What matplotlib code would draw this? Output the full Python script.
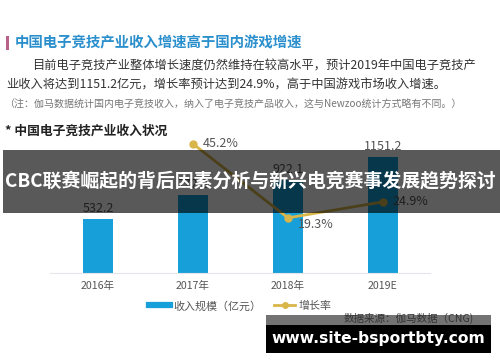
import matplotlib
matplotlib.use("Agg")
import matplotlib.pyplot as plt
from matplotlib.lines import Line2D
from matplotlib.patches import Rectangle

plt.rcParams['font.family'] = ['Noto Sans CJK SC', 'DejaVu Sans']

years = ['2016年', '2017年', '2018年', '2019E']
revenue = [532.2, 772.8, 922.1, 1151.2]
growth_years = [1, 2, 3]
growth = [45.2, 19.3, 24.9]

BLUE = '#169fd8'
GOLD = '#d8b64a'
W, H = 500, 362


def fx(px):
   return px / W


def fy(py):
   return 1 - py / H


fig = plt.figure(figsize=(5, 3.62), dpi=100)
fig.patch.set_facecolor('white')

# header block
fig.patches.append(Rectangle((fx(6), fy(50)), fx(3), 14 / H, transform=fig.transFigure,
                             color='#b8628a', lw=0))
fig.text(fx(15), fy(43), '中国电子竞技产业收入增速高于国内游戏增速', fontsize=10.4,
         fontweight='bold', color='#2a8fcc', va='center')
fig.text(fx(32), fy(66), '目前电子竞技产业整体增长速度仍然维持在较高水平，预计2019年中国电子竞技产',
         fontsize=8.8, color='#333333', va='center')
fig.text(fx(6), fy(85), '业收入将达到1151.2亿元，增长率预计达到24.9%，高于中国游戏市场收入增速。',
         fontsize=8.8, color='#333333', va='center')
fig.text(fx(4), fy(104), '（注：伽马数据统计国内电子竞技收入，纳入了电子竞技产品收入，这与Newzoo统计方式略有不同。）',
         fontsize=7.2, color='#777777', va='center')
fig.text(fx(5), fy(131), '* 中国电子竞技产业收入状况', fontsize=9.2, fontweight='bold',
         color='#222222', va='center')

# chart
ax = fig.add_axes([fx(50), fy(273), 380 / W, 133 / H])
x = list(range(len(years)))
bars = ax.bar(x, revenue, width=0.316, color=BLUE, zorder=2)
ax.set_xlim(-0.505, 3.495)
ax.set_ylim(0, 1317)
for b, v in zip(bars, revenue):
   ax.annotate(f'{v:.1f}', (b.get_x() + b.get_width() / 2, v), xytext=(0, 3),
               textcoords='offset points', ha='center', va='bottom', fontsize=9, color='#555555')
ax.set_xticks(x)
ax.set_xticklabels(years, fontsize=7.6, color='#555555')
ax.tick_params(axis='x', length=0, pad=6)
ax.set_yticks([])
for s in ['top', 'right', 'left']:
   ax.spines[s].set_visible(False)
ax.spines['bottom'].set_color('#e3e6ea')

ax2 = ax.twinx()
ax2.set_ylim(0, 46.55)
ax2.plot(growth_years, growth, color=GOLD, lw=2, marker='o', ms=5, zorder=3)
offsets = [(7, 0), (7, -5), (7, 0)]
for gx, g, off in zip(growth_years, growth, offsets):
   ax2.annotate(f'{g}%', (gx, g), xytext=off, textcoords='offset points', ha='left',
                va='center', fontsize=9, color='#555555')
ax2.set_yticks([])
for s in ['top', 'right', 'left', 'bottom']:
   ax2.spines[s].set_visible(False)

handles = [Line2D([], [], color=BLUE, lw=4.5),
           Line2D([], [], color=GOLD, lw=2, marker='o', ms=4)]
fig.legend(handles, ['收入规模（亿元）', '增长率'], loc='center', bbox_to_anchor=(fx(240), fy(306)),
           ncol=2, frameon=False, fontsize=7.9, handlelength=1.9, columnspacing=1.2,
           labelcolor='#555555', handletextpad=0.3)

# overlay banner
fig.patches.append(Rectangle((fx(3), fy(213)), fx(497), 63 / H, transform=fig.transFigure,
                             color='black', alpha=0.65, lw=0, zorder=5))
fig.text(fx(250), fy(181), 'CBC联赛崛起的背后因素分析与新兴电竞赛事发展趋势探讨', fontsize=13.6,
         fontweight='bold', color='white', ha='center', va='center', zorder=6)

# bottom watermark box
fig.patches.append(Rectangle((fx(266), fy(325)), fx(225), 10 / H, transform=fig.transFigure,
                             color='black', alpha=0.55, lw=0, zorder=5))
fig.text(fx(474), fy(318), '数据来源：伽马数据（CNG)', fontsize=7.6, color='#333333',
         ha='right', va='center', zorder=6)
fig.patches.append(Rectangle((fx(266), fy(353)), fx(225), 28 / H, transform=fig.transFigure,
                             color='black', lw=0, zorder=5))
fig.text(fx(378), fy(338), 'www.site-bsportbty.com', fontsize=11.2, fontweight='bold',
         family='DejaVu Sans', color='white', ha='center', va='center', zorder=6)

fig.savefig('out.png', dpi=100)
